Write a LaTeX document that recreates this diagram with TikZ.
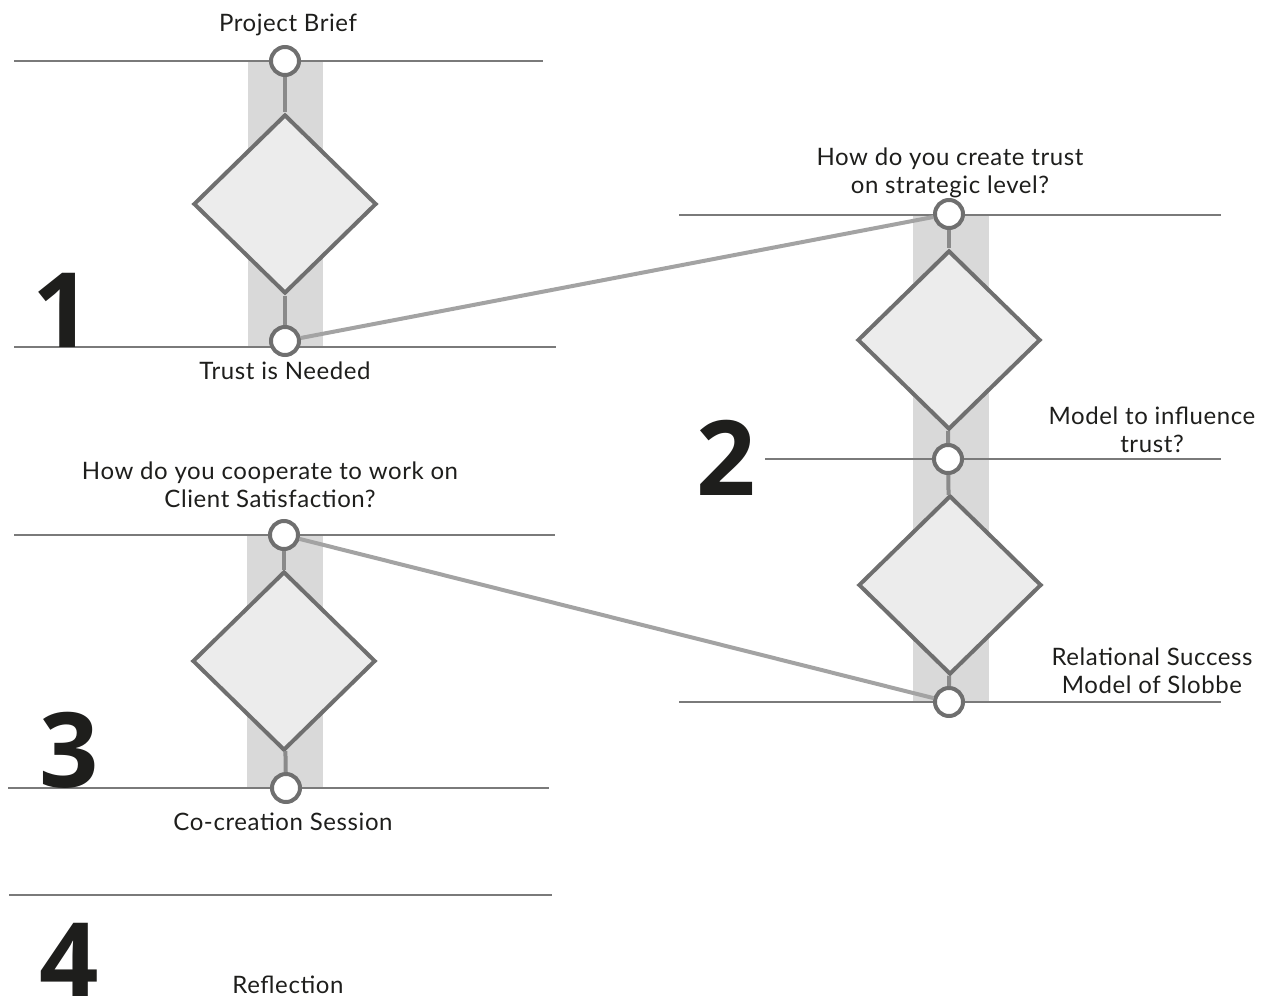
\documentclass[tikz,border=0pt]{standalone}
\usepackage{fontspec}
\setmainfont{Lato}[LetterSpace=2.5]
\newfontfamily\numfont{Open Sans}
\usetikzlibrary{shapes.geometric}
\definecolor{linegray}{HTML}{7A7A7A}
\definecolor{bandgray}{HTML}{D9D9D9}
\definecolor{boxfill}{HTML}{ECECEC}
\definecolor{boxline}{HTML}{6F6F6F}
\definecolor{stubgray}{HTML}{8A8A8A}
\definecolor{linkgray}{HTML}{A3A3A3}
\definecolor{inkblack}{HTML}{1E1E1C}
\tikzset{%
  phase line/.style={draw=linegray, line width=1pt},
  band/.style={fill=bandgray},
  milestone/.style={circle, draw=boxline, fill=white, line width=2pt,
    minimum size=14pt, inner sep=0pt},
  decision/.style={diamond, draw=boxline, fill=boxfill, line width=2pt,
    minimum width=91.5pt, minimum height=89.5pt, inner sep=0pt},
  stub/.style={draw=stubgray, line width=2pt},
  link/.style={draw=linkgray, line width=2pt},
  step text/.style={font=\fontsize{12}{14}\selectfont, text=inkblack,
    align=center, inner sep=0pt},
  phase number/.style={font=\numfont\fontsize{52}{52}\selectfont\bfseries,
    text=inkblack, inner sep=0pt, anchor=base},
}
\begin{document}
\begin{tikzpicture}[x=0.5pt,y=-0.5pt]
  \useasboundingbox (0,0) rectangle (1264,996);
  % grey bands behind each phase
  \path[band] (248,61) rectangle (323,347);
  \path[band] (913,215) rectangle (989,702);
  \path[band] (247,535) rectangle (323,788);
  % phase lines
  \draw[phase line] (14,61) -- (543,61);
  \draw[phase line] (14,347) -- (556,347);
  \draw[phase line] (679,215) -- (1221,215);
  \draw[phase line] (765,459) -- (1221,459);
  \draw[phase line] (679,702) -- (1221,702);
  \draw[phase line] (14,535) -- (555,535);
  \draw[phase line] (8,788) -- (549,788);
  \draw[phase line] (9,895) -- (552,895);
  % milestones and decisions
  \node[milestone] (c1t) at (285,61) {};
  \node[decision]  (d1)  at (285,204) {};
  \node[milestone] (c1b) at (285,341) {};
  \node[milestone] (c2t) at (949,214) {};
  \node[decision]  (d2a) at (949,340) {};
  \node[milestone] (c2m) at (948,459) {};
  \node[decision]  (d2b) at (950,585) {};
  \node[milestone] (c2b) at (949,702) {};
  \node[milestone] (c3t) at (284,535) {};
  \node[decision]  (d3)  at (284,661) {};
  \node[milestone] (c3b) at (286,788) {};
  % stubs
  \draw[stub] (c1t) -- (d1);
  \draw[stub] (d1) -- (c1b);
  \draw[stub] (c2t) -- (d2a);
  \draw[stub] (d2a) -- (c2m);
  \draw[stub] (c2m) -- (d2b);
  \draw[stub] (d2b) -- (c2b);
  \draw[stub] (c3t) -- (d3);
  \draw[stub] (d3) -- (c3b);
  % links between phases
  \draw[link] (c1b) -- (c2t);
  \draw[link] (c3t) -- (c2b);
  % phase numbers
  \node[phase number] (n1) at (62,347) {1};
  \node[phase number] (n2) at (726,495) {2};
  \node[phase number] (n3) at (69,787) {3};
  \node[phase number] (n4) at (69,997) {4};
  % texts
  \node[step text, anchor=base] (tbrief) at (288,31) {Project Brief};
  \node[step text, anchor=base] (tneed) at (285,379) {Trust is Needed};
  \node[step text] (tstrat) at (950,173) {How do you create trust\\on strategic level?};
  \node[step text] (tmodel) at (1152,430) {Model to influence\\trust?};
  \node[step text] (tslob) at (1152,671) {Relational Success\\Model of Slobbe};
  \node[step text] (tcoop) at (270,485) {How do you cooperate to work on\\Client Satisfaction?};
  \node[step text, anchor=base] (tcocr) at (283,830) {Co-creation Session};
  \node[step text, anchor=base] (trefl) at (288,993) {Reflection};
\end{tikzpicture}
\end{document}
